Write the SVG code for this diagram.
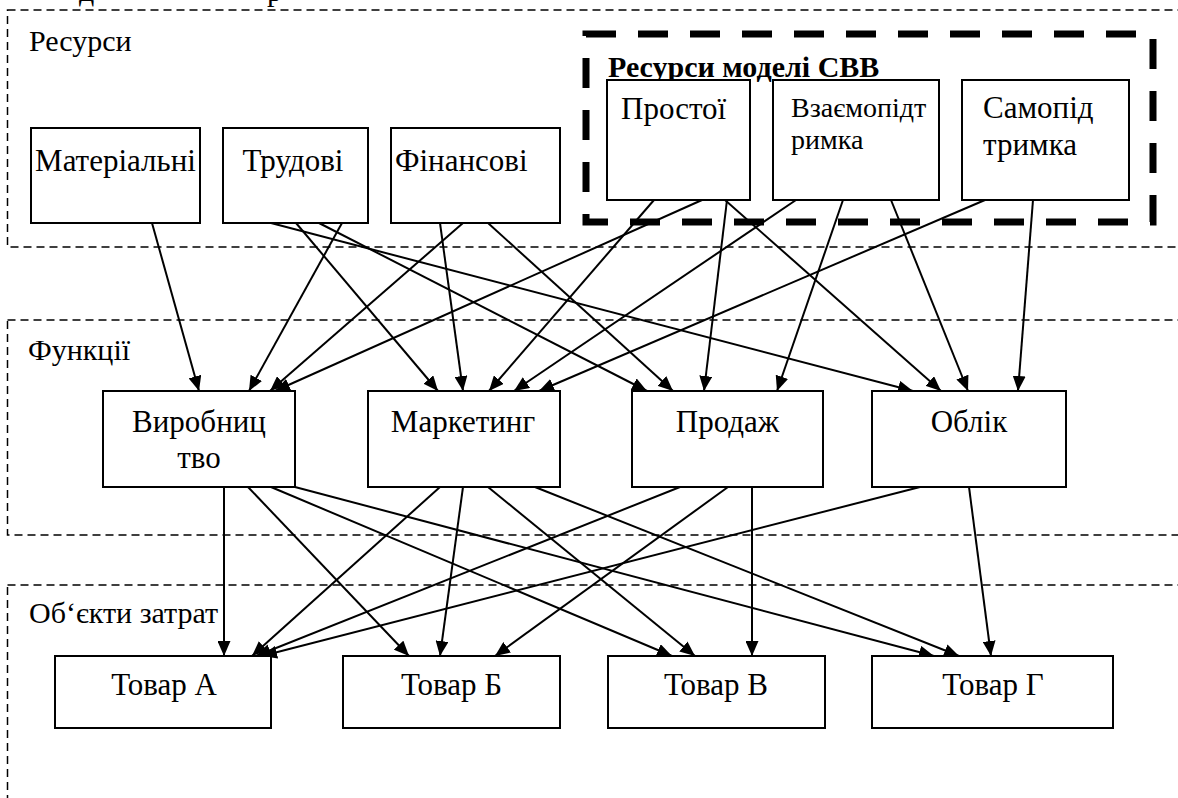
<svg xmlns="http://www.w3.org/2000/svg" width="1178" height="798" viewBox="0 0 1178 798">
<style>
  .bg { fill: #ffffff; }
  .region { fill: none; stroke: #000; stroke-width: 1.5; stroke-dasharray: 8 5; }
  .thick { fill: none; stroke: #000; stroke-width: 7; stroke-dasharray: 30 22; }
  .box { fill: #ffffff; stroke: #000; stroke-width: 2; }
  .t { font-family: "Liberation Serif", "Times New Roman", serif; font-size: 31px; fill: #000; }
  .lbl { font-family: "Liberation Serif", "Times New Roman", serif; font-size: 30px; fill: #000; }
  .sm { font-family: "Liberation Serif", "Times New Roman", serif; font-size: 28px; fill: #000; }
  .bold { font-family: "Liberation Serif", "Times New Roman", serif; font-size: 30px; font-weight: bold; fill: #000; }
  .c { text-anchor: middle; }
  .conn line { stroke: #000; stroke-width: 2; marker-end: url(#arr); }
</style>
<defs>
  <marker id="arr" markerUnits="userSpaceOnUse" markerWidth="16" markerHeight="13" refX="15" refY="6.5" orient="auto">
    <path d="M0,0 L15,6.5 L0,13 z" fill="#000"/>
  </marker>
</defs>
<rect class="bg" x="0" y="0" width="1178" height="798"/>

<g id="title-fragment">
  <text class="lbl" x="79" y="1">д</text>
  <text class="lbl" x="267" y="1">р</text>
</g>

<g id="region-resources">
  <rect class="region" x="7.5" y="10" width="1200" height="237"/>
  <text class="lbl" x="29" y="51">Ресурси</text>
</g>
<g id="region-functions">
  <rect class="region" x="7.5" y="320" width="1200" height="215"/>
  <text class="lbl" x="28" y="360">Функції</text>
</g>
<g id="region-objects">
  <rect class="region" x="7.5" y="585" width="1200" height="300"/>
  <text class="lbl" x="29" y="623">Об‘єкти затрат</text>
</g>

<g id="group-svv">
  <rect class="thick" x="586" y="34" width="567" height="188"/>
  <text class="bold" x="608" y="77">Ресурси моделі СВВ</text>
</g>

<g class="conn" id="connectors">
  <line x1="152" y1="223" x2="199" y2="391"/>
  <line x1="342" y1="223" x2="249" y2="391"/>
  <line x1="463" y1="223" x2="270" y2="391"/>
  <line x1="702" y1="200" x2="275" y2="391"/>
  <line x1="296" y1="223" x2="438" y2="391"/>
  <line x1="440" y1="223" x2="463" y2="391"/>
  <line x1="654" y1="200" x2="489" y2="391"/>
  <line x1="796" y1="200" x2="514" y2="391"/>
  <line x1="985" y1="200" x2="539" y2="391"/>
  <line x1="319" y1="223" x2="647" y2="391"/>
  <line x1="488" y1="223" x2="673" y2="391"/>
  <line x1="727" y1="200" x2="704" y2="391"/>
  <line x1="843" y1="200" x2="777" y2="391"/>
  <line x1="271" y1="223" x2="913" y2="391"/>
  <line x1="725" y1="200" x2="941" y2="391"/>
  <line x1="891" y1="200" x2="968" y2="391"/>
  <line x1="1033" y1="200" x2="1018" y2="391"/>

  <line x1="224" y1="487" x2="224" y2="656"/>
  <line x1="248" y1="487" x2="409" y2="656"/>
  <line x1="271" y1="487" x2="672" y2="656"/>
  <line x1="295" y1="487" x2="934" y2="656"/>
  <line x1="440" y1="487" x2="252" y2="656"/>
  <line x1="463" y1="487" x2="440" y2="656"/>
  <line x1="488" y1="487" x2="695" y2="656"/>
  <line x1="535" y1="487" x2="959" y2="656"/>
  <line x1="680" y1="487" x2="256" y2="656"/>
  <line x1="728" y1="487" x2="495" y2="656"/>
  <line x1="752" y1="487" x2="752" y2="656"/>
  <line x1="920" y1="487" x2="262" y2="656"/>
  <line x1="969" y1="487" x2="991" y2="656"/>
</g>

<g id="node-materialni">
  <rect class="box" x="31" y="128" width="169" height="95"/>
  <text class="t c" x="115.5" y="171">Матеріальні</text>
</g>
<g id="node-trudovi">
  <rect class="box" x="223" y="128" width="145" height="95"/>
  <text class="t c" x="293" y="171">Трудові</text>
</g>
<g id="node-finansovi">
  <rect class="box" x="391" y="128" width="169" height="95"/>
  <text class="t" x="395" y="171">Фінансові</text>
</g>
<g id="node-prostoi">
  <rect class="box" x="607" y="80" width="143" height="120"/>
  <text class="t" x="621" y="119">Простої</text>
</g>
<g id="node-vzaiemopidtrymka">
  <rect class="box" x="773" y="80" width="166" height="120"/>
  <text class="sm" x="791" y="117">Взаємопідт</text>
  <text class="sm" x="791" y="149">римка</text>
</g>
<g id="node-samopidtrymka">
  <rect class="box" x="962" y="80" width="167" height="120"/>
  <text class="t" x="983" y="118">Самопід</text>
  <text class="t" x="983" y="155">тримка</text>
</g>

<g id="node-vyrobnytstvo">
  <rect class="box" x="103" y="391" width="192" height="96"/>
  <text class="t c" x="199" y="432">Виробниц</text>
  <text class="t c" x="199" y="468">тво</text>
</g>
<g id="node-marketynh">
  <rect class="box" x="368" y="391" width="192" height="96"/>
  <text class="t c" x="463" y="432">Маркетинг</text>
</g>
<g id="node-prodazh">
  <rect class="box" x="632" y="391" width="191" height="96"/>
  <text class="t c" x="727.5" y="432">Продаж</text>
</g>
<g id="node-oblik">
  <rect class="box" x="872" y="391" width="194" height="96"/>
  <text class="t c" x="969" y="432">Облік</text>
</g>

<g id="node-tovar-a">
  <rect class="box" x="55" y="656" width="216" height="72"/>
  <text class="t c" x="164" y="695">Товар А</text>
</g>
<g id="node-tovar-b">
  <rect class="box" x="343" y="656" width="217" height="72"/>
  <text class="t c" x="451.5" y="695">Товар Б</text>
</g>
<g id="node-tovar-v">
  <rect class="box" x="608" y="656" width="217" height="72"/>
  <text class="t c" x="716" y="695">Товар В</text>
</g>
<g id="node-tovar-h">
  <rect class="box" x="872" y="656" width="241" height="72"/>
  <text class="t c" x="993" y="695">Товар Г</text>
</g>
</svg>
